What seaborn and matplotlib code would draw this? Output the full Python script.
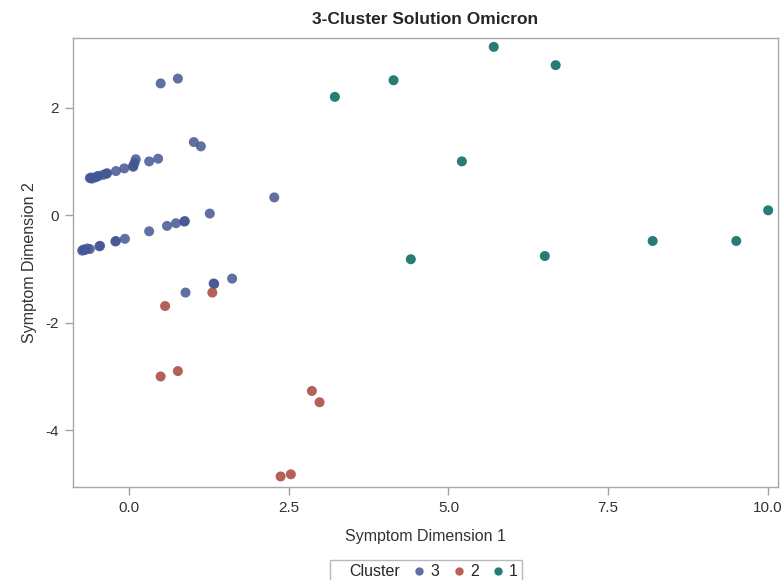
import seaborn as sns
import matplotlib.pyplot as plt
import pandas as pd
from matplotlib.lines import Line2D

# cluster 3 (blue)
x3 = [0.49, 0.76, 1.01, 1.12, 0.31, 0.45, 0.10, 0.08, 0.06, 0.06, -0.08, -0.21,
      -0.35, -0.36, -0.41, -0.49, -0.50, -0.54, -0.59, -0.62, -0.60,
      2.27, 1.26, 0.87, 0.86, 0.73, 0.59, 0.31, -0.07, -0.21, -0.22,
      -0.46, -0.47, -0.62, -0.66, -0.70, -0.74, -0.72,
      1.61, 1.33, 1.32, 0.88]
y3 = [2.45, 2.54, 1.36, 1.28, 1.00, 1.05, 1.04, 0.97, 0.90, 0.92, 0.87, 0.82,
      0.78, 0.77, 0.75, 0.73, 0.72, 0.70, 0.68, 0.69, 0.70,
      0.33, 0.03, -0.11, -0.12, -0.15, -0.20, -0.30, -0.44, -0.48, -0.49,
      -0.57, -0.58, -0.63, -0.62, -0.65, -0.66, -0.64,
      -1.18, -1.28, -1.27, -1.44]

# cluster 2 (red)
x2 = [1.30, 0.56, 0.76, 0.49, 2.86, 2.98, 2.37, 2.53]
y2 = [-1.44, -1.69, -2.90, -3.00, -3.27, -3.48, -4.86, -4.82]

# cluster 1 (teal)
x1 = [5.71, 6.68, 4.14, 3.22, 5.21, 10.01, 4.41, 6.51, 8.20, 9.51]
y1 = [3.13, 2.79, 2.51, 2.20, 1.00, 0.09, -0.82, -0.76, -0.48, -0.48]

clusters = ["3", "2", "1"]
colors = {"3": "#445694", "2": "#A8453A", "1": "#01665E"}

df = pd.DataFrame({
    "dim1": x3 + x2 + x1,
    "dim2": y3 + y2 + y1,
    "Cluster": ["3"] * len(x3) + ["2"] * len(x2) + ["1"] * len(x1),
})

sns.set_style("white")
plt.rcParams["font.family"] = ["Liberation Sans", "DejaVu Sans"]
plt.rcParams["axes.unicode_minus"] = False

fig = plt.figure(figsize=(7.84, 5.80), dpi=100)
ax = fig.add_axes([0.093, 0.160, 0.899, 0.774])

sns.scatterplot(data=df, x="dim1", y="dim2", hue="Cluster", hue_order=clusters,
                palette=colors, s=52, alpha=0.85, linewidth=0, ax=ax, legend=False)

ax.set_xlim(-0.885, 10.16)
ax.set_ylim(-5.06, 3.29)
ax.set_xticks([0, 2.5, 5, 7.5, 10])
ax.set_xticklabels(["0.0", "2.5", "5.0", "7.5", "10.0"])
ax.set_yticks([-4, -2, 0, 2])
ax.tick_params(axis="both", direction="out", length=6, width=1, color="#A0A0A0",
               labelsize=11, labelcolor="#333333", pad=4, bottom=True, left=True)
for sp in ax.spines.values():
    sp.set_color("#A8A8A8")
    sp.set_linewidth(1)

ax.set_xlabel("Symptom Dimension 1", fontsize=11.5, color="#333333", labelpad=10)
ax.set_ylabel("Symptom Dimension 2", fontsize=11.5, color="#333333", labelpad=6)
ax.set_title("3-Cluster Solution Omicron", fontsize=12.5, fontweight="bold", pad=10)

handles = [Line2D([], [], linestyle="none", marker="")]
labels = ["Cluster"]
for c in clusters:
    handles.append(Line2D([], [], linestyle="none", marker="o", markersize=6,
                          markerfacecolor=colors[c], markeredgewidth=0, alpha=0.85))
    labels.append(c)
leg = fig.legend(handles, labels, loc="lower center", bbox_to_anchor=(0.543, -0.014),
                 ncol=4, frameon=True, fancybox=False, fontsize=11.5,
                 handlelength=0.6, handletextpad=0.4, columnspacing=0.9,
                 borderpad=0.25, borderaxespad=0.3)
leg.get_frame().set_edgecolor("#A8A8A8")
leg.get_frame().set_linewidth(1)

fig.savefig("out.png", dpi=100)
